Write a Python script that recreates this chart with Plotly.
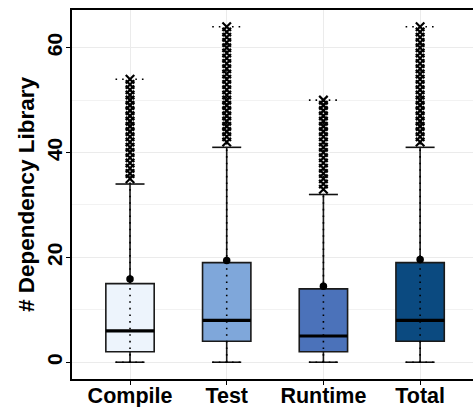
import plotly.graph_objects as go

categories = ["Compile", "Test", "Runtime", "Total"]
q1 = [2, 4, 2, 4]
median = [6, 8, 5, 8]
q3 = [15, 19, 14, 19]
lower_whisker = [0, 0, 0, 0]
upper_whisker = [34, 41, 32, 41]
data_min = [0, 0, 0, 0]
data_max = [54, 64, 50, 64]
mean = [15.9, 19.4, 14.5, 19.6]
colors = ["#EDF4FC", "#7FA7DA", "#4B72BA", "#0B4A80"]
y_ticks = [0, 20, 40, 60]

FONT = "Liberation Sans, Arial, sans-serif"
BOX_W = 0.5
CAP_W = 0.3
DOT = "1.6px,5px"

fig = go.Figure()

for i, cat in enumerate(categories):
    x = i + 1
    # solid whisker caps
    for yv in (lower_whisker[i], upper_whisker[i]):
        fig.add_trace(go.Scatter(x=[x - CAP_W / 2, x + CAP_W / 2], y=[yv, yv], mode="lines",
                                 line=dict(color="#111111", width=1.6), showlegend=False, hoverinfo="skip"))
    fig.add_trace(go.Box(x=[x], q1=[q1[i]], median=[median[i]], q3=[q3[i]],
                         lowerfence=[lower_whisker[i]], upperfence=[upper_whisker[i]],
                         width=BOX_W, fillcolor=colors[i], line=dict(color="#1a1a1a", width=1.6),
                         boxpoints=False, whiskerwidth=0, showlegend=False, name=cat))
    # thick median
    fig.add_trace(go.Scatter(x=[x - BOX_W / 2, x + BOX_W / 2], y=[median[i], median[i]], mode="lines",
                             line=dict(color="black", width=3.2), showlegend=False, hoverinfo="skip"))
    # outliers
    outs = list(range(upper_whisker[i] + 1, data_max[i] + 1))
    fig.add_trace(go.Scatter(x=[x] * len(outs), y=outs, mode="markers",
                             marker=dict(symbol="x-thin-open", size=8.5, color="black",
                                         line=dict(color="black", width=2.2)),
                             showlegend=False, hoverinfo="skip"))
    # dotted range
    fig.add_trace(go.Scatter(x=[x, x], y=[data_min[i], data_max[i]], mode="lines",
                             line=dict(color="black", width=1.6, dash=DOT), showlegend=False, hoverinfo="skip"))
    for yv in (data_min[i], data_max[i]):
        fig.add_trace(go.Scatter(x=[x - CAP_W / 2, x + CAP_W / 2], y=[yv, yv], mode="lines",
                                 line=dict(color="black", width=1.6, dash=DOT), showlegend=False, hoverinfo="skip"))
    # mean
    fig.add_trace(go.Scatter(x=[x], y=[mean[i]], mode="markers",
                             marker=dict(symbol="circle", size=7.5, color="black"),
                             showlegend=False, hoverinfo="skip"))

fig.update_layout(
    width=473, height=407,
    margin=dict(l=72, r=0, t=10, b=28),
    paper_bgcolor="white", plot_bgcolor="white",
    font=dict(family=FONT, color="black"),
    xaxis=dict(range=[0.4, 4.547], tickvals=[1, 2, 3, 4], ticktext=categories, automargin=False,
               showgrid=True, gridcolor="#EBEBEB", gridwidth=1, zeroline=False,
               showline=True, linecolor="black", linewidth=1.5, mirror=True,
               ticks="outside", ticklen=4, tickcolor="black", tickwidth=1.2,
               ticklabelstandoff=-8,
               tickfont=dict(size=21.5, weight="bold", family=FONT, color="black")),
    yaxis=dict(range=[-3.2, 67.2], tickvals=y_ticks, tickangle=-90, automargin=False,
               showgrid=True, gridcolor="#EBEBEB", gridwidth=1, zeroline=False,
               minor=dict(dtick=10, tick0=0, showgrid=True, gridcolor="#F2F2F2", gridwidth=1),
               showline=True, linecolor="black", linewidth=1.5,
               ticks="outside", ticklen=4, tickcolor="black", tickwidth=1.2,
               ticklabelstandoff=-4,
               tickfont=dict(size=21, weight="bold", family=FONT, color="black")),
)
fig.update_yaxes(title=dict(text="# Dependency Library", standoff=2,
                            font=dict(size=22.5, weight="bold", family=FONT, color="black")))

fig.write_html("out.html")
